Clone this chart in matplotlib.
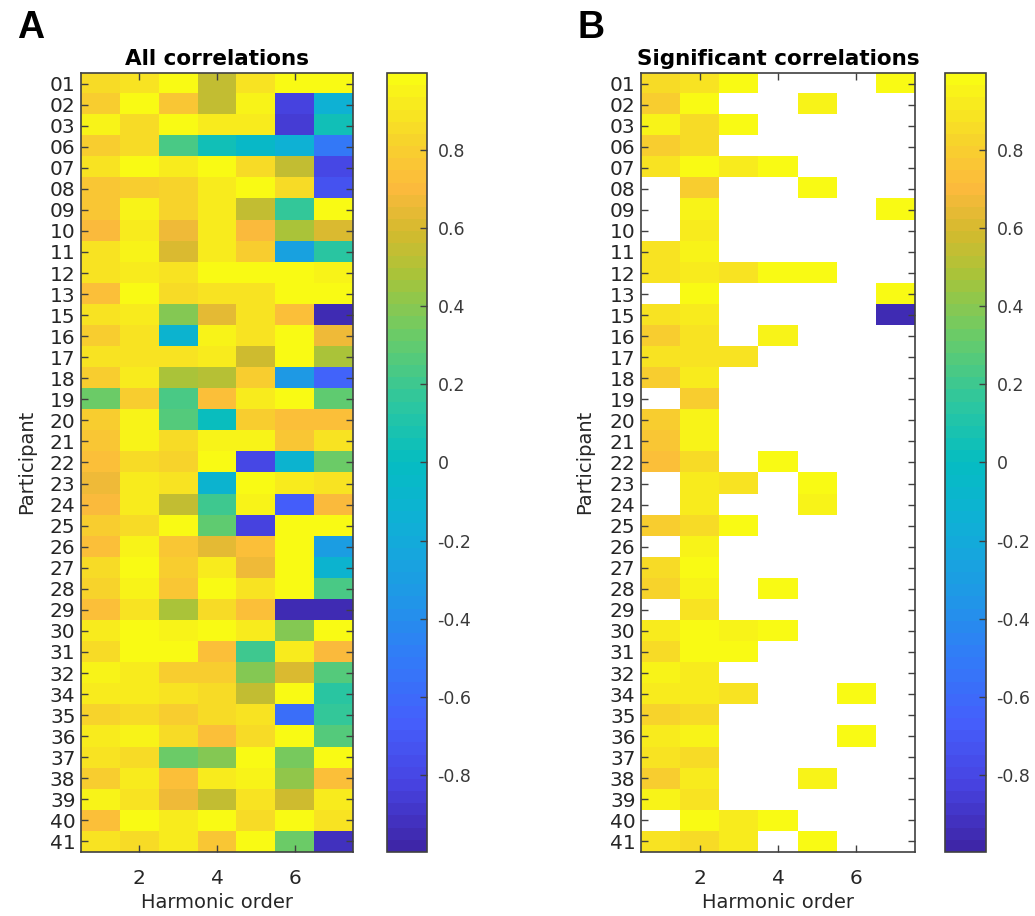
import numpy as np
import matplotlib
matplotlib.use("Agg")
import matplotlib.pyplot as plt
from matplotlib.colors import LinearSegmentedColormap

# participants (rows) and harmonic orders (columns)
participants = ['01', '02', '03', '06', '07', '08', '09', '10', '11', '12', '13',
                '15', '16', '17', '18', '19', '20', '21', '22', '23', '24', '25',
                '26', '27', '28', '29', '30', '31', '32', '34', '35', '36', '37',
                '38', '39', '40', '41']
harmonics = [1, 2, 3, 4, 5, 6, 7]

# correlation per participant, harmonic orders 1..7
corr = [
    [0.85, 0.88, 0.97, 0.55, 0.88, 0.97, 0.97],   # 01
    [0.78, 0.98, 0.76, 0.55, 0.95, -0.82, -0.15],  # 02
    [0.96, 0.87, 0.97, 0.93, 0.93, -0.85, 0.05],   # 03
    [0.80, 0.87, 0.22, 0.05, -0.05, -0.15, -0.52],  # 06
    [0.88, 0.98, 0.92, 0.97, 0.86, 0.55, -0.80],   # 07
    [0.76, 0.78, 0.84, 0.91, 0.97, 0.86, -0.72],   # 08
    [0.75, 0.95, 0.84, 0.92, 0.56, 0.18, 0.98],    # 09
    [0.70, 0.93, 0.68, 0.92, 0.70, 0.48, 0.62],    # 10
    [0.90, 0.94, 0.62, 0.92, 0.80, -0.25, 0.15],   # 11
    [0.89, 0.93, 0.90, 0.98, 0.98, 0.98, 0.95],    # 12
    [0.72, 0.97, 0.85, 0.90, 0.90, 0.97, 0.98],    # 13
    [0.88, 0.92, 0.40, 0.63, 0.88, 0.72, -0.95],   # 15
    [0.78, 0.88, -0.12, 0.96, 0.88, 0.98, 0.66],   # 16
    [0.90, 0.90, 0.90, 0.92, 0.58, 0.98, 0.48],    # 17
    [0.78, 0.93, 0.48, 0.52, 0.78, -0.32, -0.65],  # 18
    [0.33, 0.80, 0.22, 0.72, 0.92, 0.97, 0.30],    # 19
    [0.78, 0.95, 0.26, 0.00, 0.80, 0.72, 0.72],    # 20
    [0.77, 0.94, 0.85, 0.94, 0.94, 0.76, 0.88],    # 21
    [0.74, 0.87, 0.84, 0.98, -0.80, -0.10, 0.32],  # 22
    [0.68, 0.93, 0.90, -0.12, 0.98, 0.93, 0.88],   # 23
    [0.70, 0.93, 0.56, 0.20, 0.96, -0.68, 0.70],   # 24
    [0.78, 0.86, 0.98, 0.30, -0.84, 0.98, 0.98],   # 25
    [0.74, 0.95, 0.77, 0.64, 0.72, 0.98, -0.30],   # 26
    [0.86, 0.98, 0.80, 0.92, 0.66, 0.98, -0.10],   # 27
    [0.84, 0.95, 0.77, 0.98, 0.88, 0.98, 0.24],    # 28
    [0.72, 0.88, 0.47, 0.85, 0.74, -0.94, -0.95],  # 29
    [0.93, 0.98, 0.95, 0.98, 0.93, 0.40, 0.98],    # 30
    [0.85, 0.98, 0.98, 0.74, 0.20, 0.93, 0.70],    # 31
    [0.95, 0.93, 0.78, 0.78, 0.40, 0.62, 0.28],    # 32
    [0.93, 0.92, 0.89, 0.86, 0.56, 0.98, 0.14],    # 34
    [0.83, 0.86, 0.78, 0.86, 0.90, -0.58, 0.18],   # 35
    [0.93, 0.95, 0.85, 0.72, 0.86, 0.98, 0.25],    # 36
    [0.88, 0.86, 0.32, 0.38, 0.98, 0.35, 0.98],    # 37
    [0.80, 0.92, 0.74, 0.92, 0.95, 0.42, 0.72],    # 38
    [0.94, 0.88, 0.66, 0.56, 0.90, 0.57, 0.92],    # 39
    [0.72, 0.98, 0.93, 0.98, 0.86, 0.98, 0.90],    # 40
    [0.88, 0.86, 0.92, 0.76, 0.97, 0.33, -0.93],   # 41
]

# harmonic orders with a significant correlation, per participant
significant = [
    [1, 2, 3, 7], [1, 2, 5], [1, 2, 3], [1, 2], [1, 2, 3, 4], [2, 5], [2, 7],
    [2], [1, 2], [1, 2, 3, 4, 5], [2, 7], [1, 2, 7], [1, 2, 4], [1, 2, 3],
    [1, 2], [2], [1, 2], [1, 2], [1, 2, 4], [2, 3, 5], [2, 5], [1, 2, 3],
    [2], [1, 2], [1, 2, 4], [2], [1, 2, 3, 4], [1, 2, 3], [1, 2],
    [1, 2, 3, 6], [1, 2], [1, 2, 6], [1, 2], [1, 2, 5], [1, 2], [2, 3, 4],
    [1, 2, 3, 5],
]

clim = (-0.997, 0.997)

# parula-like colormap, 64 levels
parula_pts = [
    (0.00, (0.243, 0.150, 0.660)),
    (0.08, (0.278, 0.260, 0.880)),
    (0.16, (0.270, 0.370, 0.985)),
    (0.25, (0.190, 0.490, 0.970)),
    (0.33, (0.120, 0.600, 0.900)),
    (0.42, (0.060, 0.690, 0.840)),
    (0.50, (0.020, 0.740, 0.760)),
    (0.58, (0.180, 0.780, 0.620)),
    (0.66, (0.400, 0.800, 0.420)),
    (0.74, (0.650, 0.770, 0.230)),
    (0.80, (0.830, 0.730, 0.180)),
    (0.86, (0.990, 0.730, 0.240)),
    (0.92, (0.970, 0.830, 0.170)),
    (1.00, (0.977, 0.984, 0.080)),
]
parula = LinearSegmentedColormap.from_list('parula', parula_pts, N=64)
parula.set_bad('white')

data = np.array(corr)
mask = np.ones_like(data, dtype=bool)
for i, cols in enumerate(significant):
    for c in cols:
        mask[i, c - 1] = False
sig_data = np.ma.masked_array(data, mask=mask)

W, H = 1035, 916
fig = plt.figure(figsize=(W / 100, H / 100), dpi=100)

def px_axes(x0, y0, x1, y1):
    return fig.add_axes([x0 / W, 1 - y1 / H, (x1 - x0) / W, (y1 - y0) / H])

text_col = '#262626'
edge_col = '#404040'

def draw_panel(ax, cax, values, title, letter, letter_x, ylab_x):
    n = len(participants)
    im = ax.imshow(values, cmap=parula, vmin=clim[0], vmax=clim[1],
                   aspect='auto', interpolation='nearest',
                   extent=(0.5, len(harmonics) + 0.5, n + 0.5, 0.5))
    ax.set_yticks(np.arange(1, n + 1))
    ax.set_yticklabels(participants, fontsize=14.5, color=text_col)
    ax.set_xticks([2, 4, 6])
    ax.set_xticklabels(['2', '4', '6'], fontsize=14.5, color=text_col)
    ax.tick_params(direction='in', length=5, width=1, color=edge_col,
                   top=True, right=True, pad=4)
    ax.tick_params(axis='x', pad=12)
    for s in ax.spines.values():
        s.set_color(edge_col)
        s.set_linewidth(1.2)
    ax.set_xlabel('Harmonic order', fontsize=14, color=text_col, labelpad=4)
    ax.set_title(title, fontsize=15.5, fontweight='bold', pad=6)
    fig.text(ylab_x / W, 1 - 462 / H, 'Participant', rotation=90,
             fontsize=14, color=text_col, ha='center', va='center')
    fig.text(letter_x / W, 1 - 28 / H, letter, fontsize=27, fontweight='bold',
             family='Liberation Sans', ha='center', va='center')

    cb = fig.colorbar(im, cax=cax)
    cb.set_ticks([-0.8, -0.6, -0.4, -0.2, 0, 0.2, 0.4, 0.6, 0.8])
    cb.set_ticklabels(['-0.8', '-0.6', '-0.4', '-0.2', '0', '0.2', '0.4', '0.6', '0.8'])
    cax.tick_params(direction='in', length=5, width=1, color=edge_col,
                    labelsize=12.5, labelcolor='#3a3a3a', pad=7.5)
    cb.outline.set_edgecolor(edge_col)
    cb.outline.set_linewidth(1.2)

axA = px_axes(81, 73, 353, 852)
caxA = px_axes(387, 73, 427, 852)
axB = px_axes(641, 73, 915, 852)
caxB = px_axes(945, 73, 986, 852)

draw_panel(axA, caxA, data, 'All correlations', 'A', 31, 27)
draw_panel(axB, caxB, sig_data, 'Significant correlations', 'B', 591, 585)

fig.savefig('out.png', dpi=100, facecolor='white')
